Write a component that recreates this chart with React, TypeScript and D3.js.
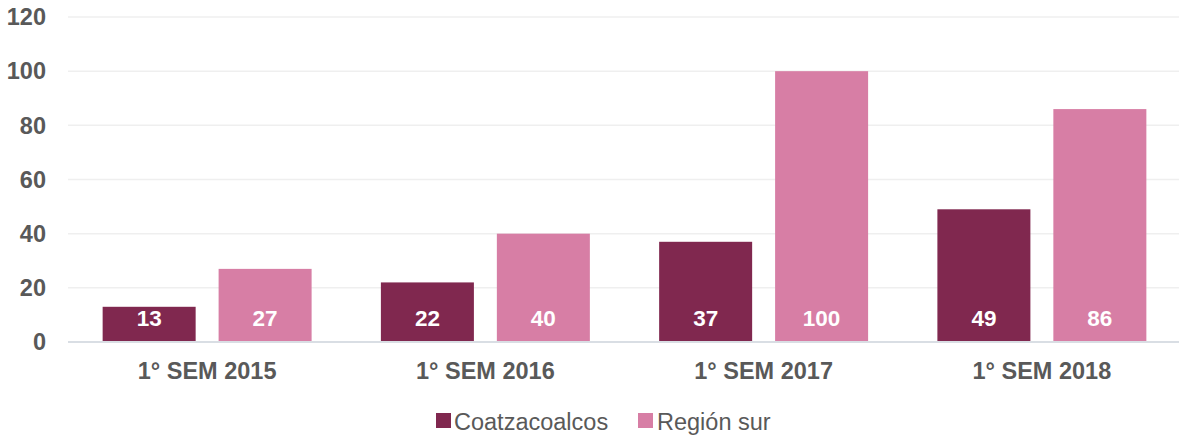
import React from "react";
import * as d3 from "d3";

const categories = ["1° SEM 2015", "1° SEM 2016", "1° SEM 2017", "1° SEM 2018"];
const seriesNames = ["Coatzacoalcos", "Región sur"];
const coatzacoalcos = [13, 22, 37, 49];
const regionSur = [27, 40, 100, 86];
const yTicks = [0, 20, 40, 60, 80, 100, 120];
const colors = ["#80284F", "#D77EA5"];

export default function App() {
  const W = 1179, H = 436;
  const left = 68, right = 1181, top = 17, bottom = 342;
  const x = d3.scaleBand<string>().domain(categories).range([left, right]).paddingInner(0).paddingOuter(0);
  const y = d3.scaleLinear().domain([0, 120]).range([bottom, top]);
  const inner = d3.scaleBand<number>().domain([0, 1]).range([0, x.bandwidth()]).paddingInner(0.198).paddingOuter(0.2987);
  const series = [coatzacoalcos, regionSur];
  const font = "Liberation Sans, Arial, sans-serif";
  return (
    <svg width={W} height={H} style={{ position: "absolute", left: 0, top: 0 }} fontFamily={font}>
      <rect width={W} height={H} fill="#fff" />
      {yTicks.map((t) => (
        <g key={t}>
          {t !== 0 && <line x1={left} x2={right} y1={y(t)} y2={y(t)} stroke="#EFEFEF" strokeWidth={1.5} />}
          <text x={46} y={y(t)} dy="0.35em" textAnchor="end" fontSize={23.5} fontWeight="bold" fill="#595959">{t}</text>
        </g>
      ))}
      {categories.map((c, i) => (
        <g key={c}>
          {series.map((s, j) => {
            const bx = (x(c) as number) + (inner(j) as number);
            const bw = inner.bandwidth();
            return (
              <g key={j}>
                <rect x={bx} y={y(s[i])} width={bw} height={bottom - y(s[i])} fill={colors[j]} />
                <text x={bx + bw / 2} y={bottom - 16} textAnchor="middle" fontSize={22.5} fontWeight="bold" fill="#fff">{s[i]}</text>
              </g>
            );
          })}
          <text x={(x(c) as number) + (inner(0) as number) + (inner(1) as number + inner.bandwidth() - (inner(0) as number)) / 2} y={379} textAnchor="middle" fontSize={23.5} fontWeight="bold" fill="#595959">{c}</text>
        </g>
      ))}
      <line x1={left} x2={right} y1={bottom} y2={bottom} stroke="#D9DEE4" strokeWidth={2} />
      <g>
        <rect x={436} y={413} width={15} height={15} fill={colors[0]} />
        <text x={454} y={430} fontSize={23.5} fill="#595959">{seriesNames[0]}</text>
        <rect x={638} y={413} width={15} height={15} fill={colors[1]} />
        <text x={657} y={430} fontSize={23.5} fill="#595959">{seriesNames[1]}</text>
      </g>
    </svg>
  );
}
